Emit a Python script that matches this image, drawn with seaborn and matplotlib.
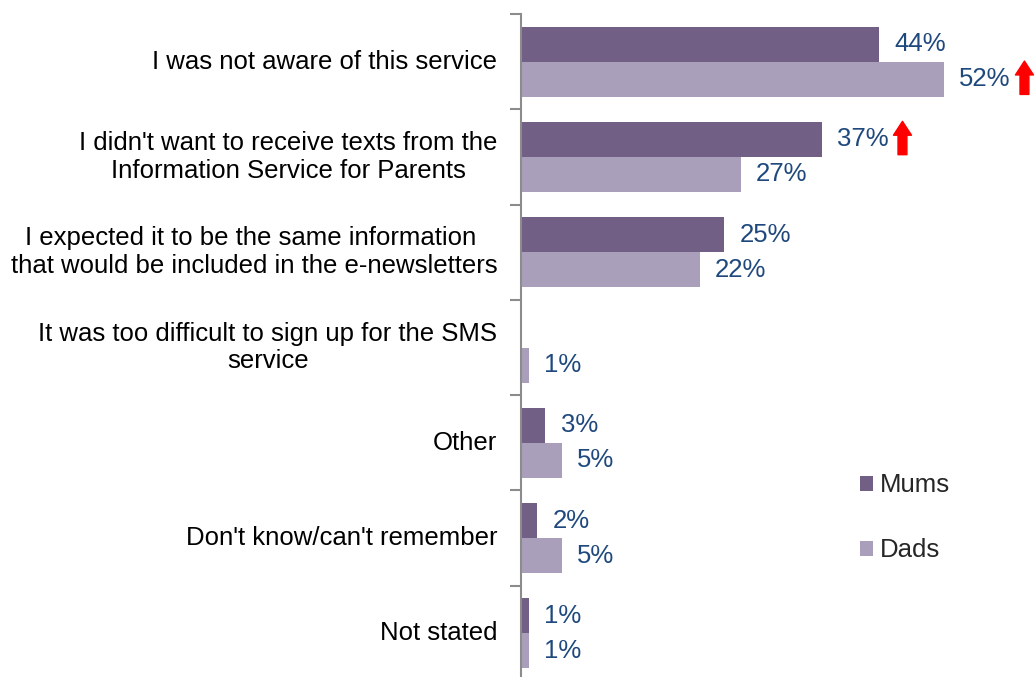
import numpy as np
import pandas as pd
import matplotlib
matplotlib.use("Agg")
import matplotlib.pyplot as plt
import matplotlib.transforms as mtransforms
import seaborn as sns

# datos del gráfico
categories = [
    "I was not aware of this service",
    "I didn't want to receive texts from the\nInformation Service for Parents",
    "I expected it to be the same information \nthat would be included in the e-newsletters",
    "It was too difficult to sign up for the SMS\nservice",
    "Other",
    "Don't know/can't remember",
    "Not stated",
]
mums = [44, 37, 25, 0, 3, 2, 1]
dads = [52, 27, 22, 1, 5, 5, 1]
groups = ["Mums", "Dads"]
# barras marcadas con flecha roja (grupo, índice de categoría)
arrows = [("Dads", 0), ("Mums", 1)]

colors = {"Mums": "#72598C", "Dads": "#A99ABE"}
label_color = "#1F497D"
fs = 18.5

sns.set_style("white")
plt.rcParams["font.family"] = ["Liberation Sans", "DejaVu Sans"]

df = pd.DataFrame({
    "category": categories * 2,
    "group": ["Mums"] * len(mums) + ["Dads"] * len(dads),
    "value": mums + dads,
})

fig = plt.figure(figsize=(10.36, 6.77), dpi=100)
ax = fig.add_axes([0.5029, -0.006, 0.471, 0.9853])

sns.barplot(data=df, y="category", x="value", hue="group", hue_order=groups,
            palette=colors, orient="h", width=0.735, linewidth=0,
            order=categories, ax=ax)

ax.set_xlim(0, 60)
ax.set_ylim(len(categories) - 0.5, -0.5)
ax.set_xlabel("")
ax.set_ylabel("")
ax.set_xticks([])

# etiquetas de categoría en el centro, marcas en los límites
ax.set_yticks(np.arange(len(categories)) - 0.5)
ax.set_yticklabels([])
ax.tick_params(axis="y", length=8, width=1.5, color="#8C8C8C", left=True)
for i, cat in enumerate(categories):
    ax.annotate(cat, xy=(0, i), xycoords=("axes fraction", "data"),
                xytext=(-17, 0), textcoords="offset points",
                ha="right", va="center", multialignment="center",
                fontsize=fs, color="black", linespacing=1.2)

for s in ["top", "right", "bottom"]:
    ax.spines[s].set_visible(False)
ax.spines["left"].set_color("#8C8C8C")
ax.spines["left"].set_linewidth(1.5)

# etiquetas de valor
offsets = {"Mums": -0.735 / 4, "Dads": 0.735 / 4}
for g, vals in zip(groups, [mums, dads]):
    for i, v in enumerate(vals):
        if v <= 0:
            continue
        ax.annotate(f"{v}%", xy=(v, i + offsets[g]), xytext=(11, 0),
                    textcoords="offset points", ha="left", va="center",
                    fontsize=fs, color=label_color, annotation_clip=False)

# flechas rojas
for g, i in arrows:
    v = (mums if g == "Mums" else dads)[i]
    yc = i + offsets[g]
    tr = mtransforms.offset_copy(ax.transData, fig=fig, x=58, y=0, units="points")
    ax.annotate("", xy=(v, yc - 0.19), xycoords=tr, xytext=(v, yc + 0.16), textcoords=tr,
                arrowprops=dict(arrowstyle="simple,head_width=0.65,head_length=0.5,tail_width=0.32",
                                color="red", mutation_scale=20, shrinkA=0, shrinkB=0),
                annotation_clip=False)

handles, labels = ax.get_legend_handles_labels()
ax.legend(handles, labels, loc="upper left", bbox_to_anchor=(0.808, 0.335),
          bbox_transform=fig.transFigure, frameon=False, fontsize=fs,
          handlelength=0.5, handleheight=0.5, handletextpad=0.25, labelspacing=1.6)

fig.savefig("out.png", dpi=100)
